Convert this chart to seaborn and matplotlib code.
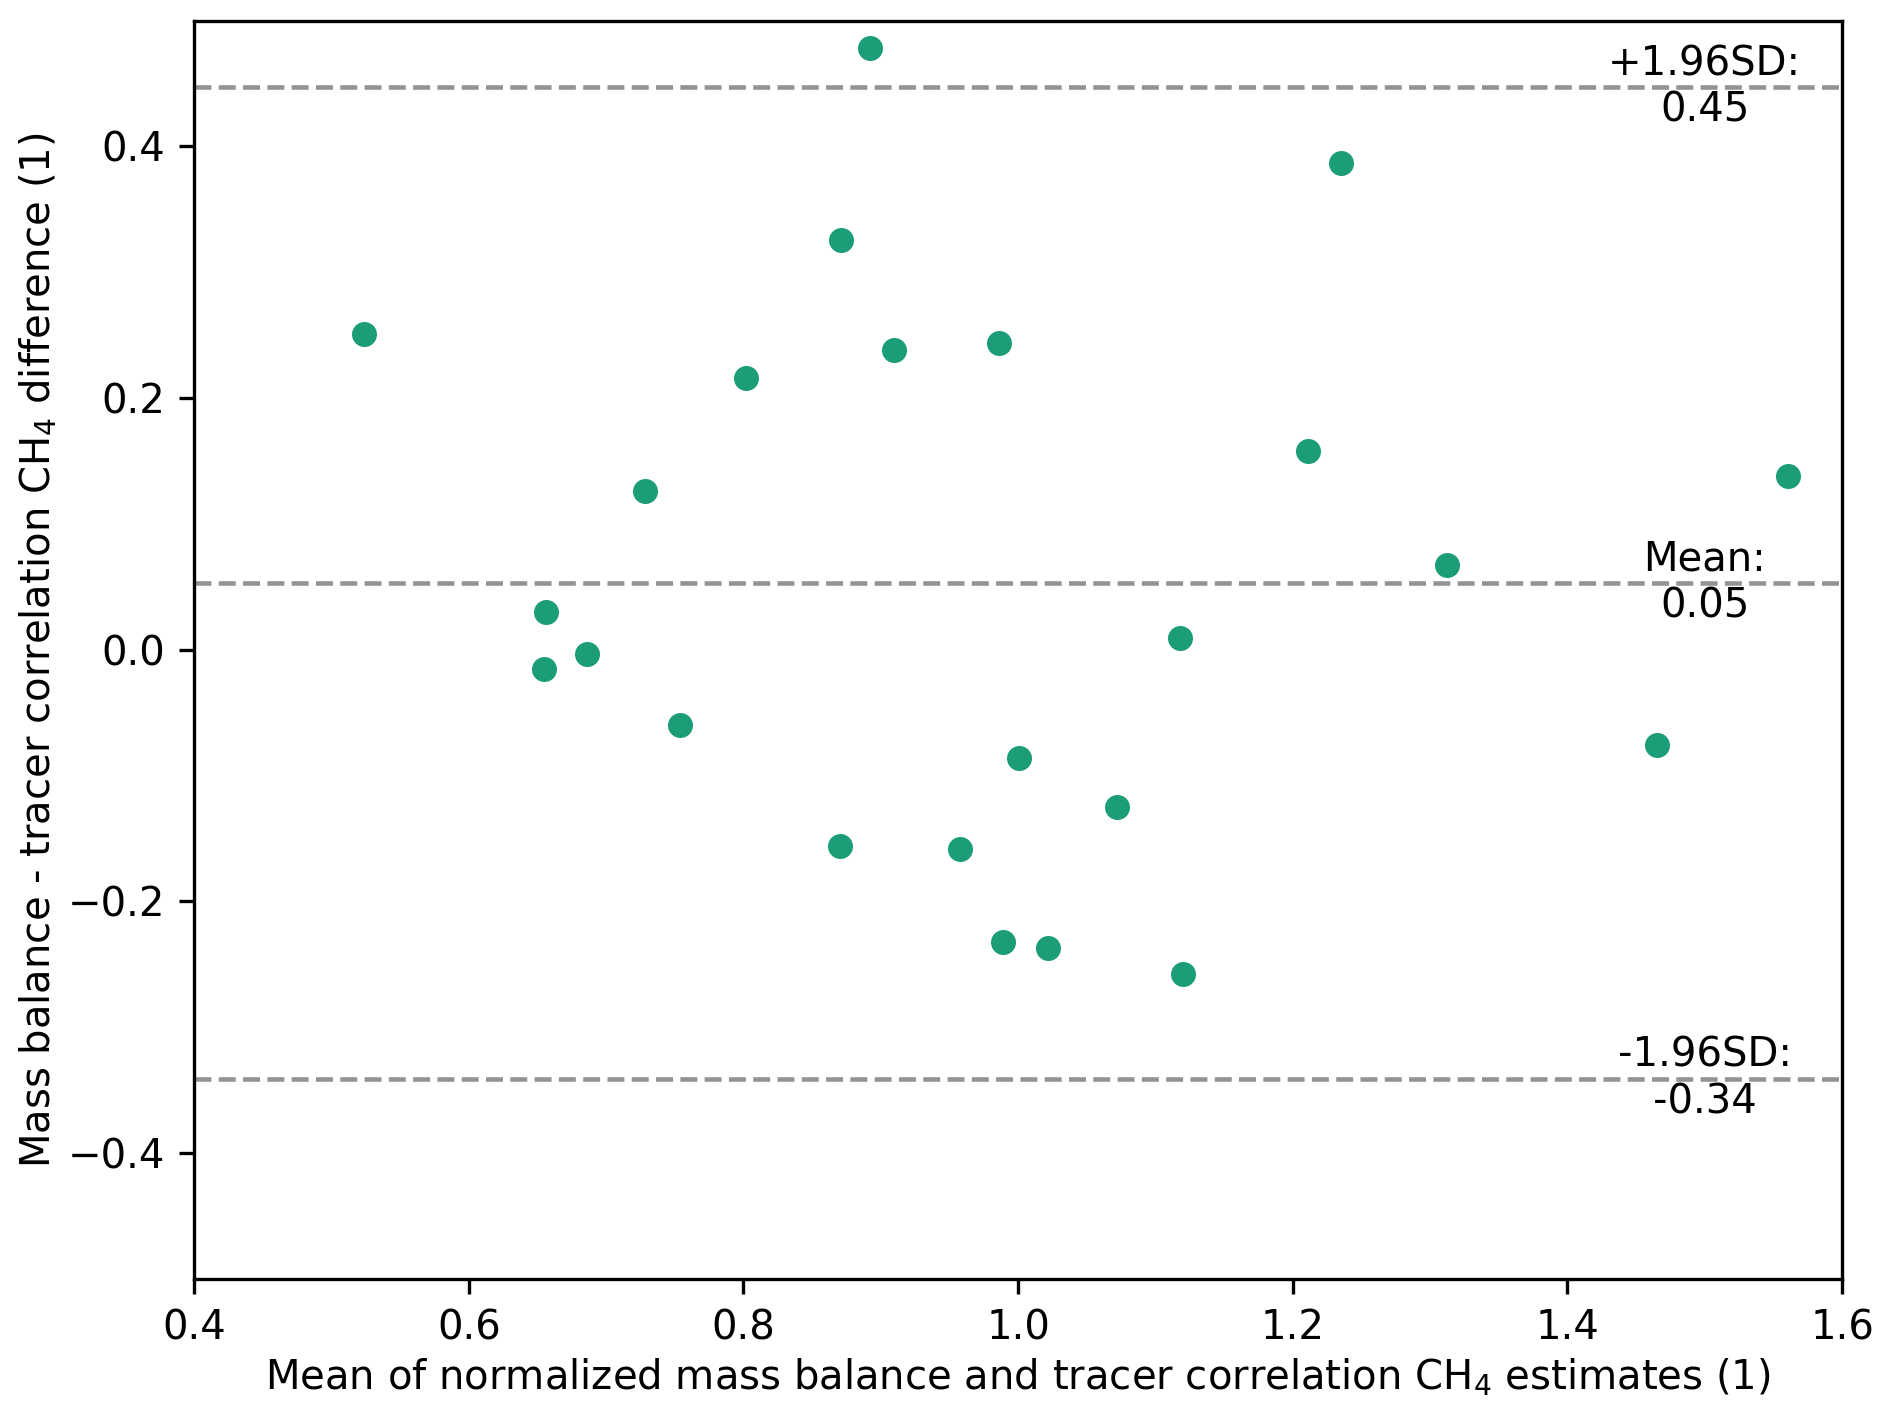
import numpy as np
import pandas as pd
import matplotlib
matplotlib.use("Agg")
import matplotlib.pyplot as plt
import seaborn as sns

# ========================
# DATA
# ========================
mean_vals = [0.524, 0.892, 1.235, 0.871, 0.986, 0.910, 0.802, 1.211,
             1.561, 0.728, 1.312, 0.656, 1.118, 0.686, 0.655, 0.754,
             1.465, 1.001, 1.072, 0.870, 0.958, 0.989, 1.022, 1.120]
diff_vals = [0.251, 0.478, 0.387, 0.326, 0.244, 0.238, 0.216, 0.158,
             0.138, 0.126, 0.067, 0.030, 0.009, -0.003, -0.015, -0.060,
             -0.076, -0.086, -0.125, -0.156, -0.158, -0.232, -0.237, -0.258]

mean_diff = 0.053
upper_loa = 0.447
lower_loa = -0.341

line_labels = ["+1.96SD:\n0.45", "Mean:\n0.05", "-1.96SD:\n-0.34"]
line_values = [upper_loa, mean_diff, lower_loa]

df = pd.DataFrame({"mean": mean_vals, "diff": diff_vals})

plt.rcParams["font.size"] = 9.65

# ========================
# PLOT
# ========================
fig = plt.figure(figsize=(1892 / 300, 1408 / 300), dpi=300)
ax = fig.add_axes([0.1026, 0.0916, 0.8710, 0.8938])

sns.scatterplot(data=df, x="mean", y="diff", color="#1b9e77",
                s=36, linewidth=0, ax=ax)

for val, lab in zip(line_values, line_labels):
    ax.axhline(val, color="gray", linestyle="--", linewidth=1.1, alpha=0.85)
    ax.text(1.5, val, lab, ha="center", va="center")

ax.set_xlim(0.4, 1.6)
ax.set_ylim(-0.5, 0.5)
ax.set_yticks([-0.4, -0.2, 0.0, 0.2, 0.4])
ax.set_xlabel("Mean of normalized mass balance and tracer correlation CH$_4$ estimates (1)",
              labelpad=2)
ax.set_ylabel("Mass balance - tracer correlation CH$_4$ difference (1)", labelpad=2)

fig.savefig("out.png", dpi=300)
